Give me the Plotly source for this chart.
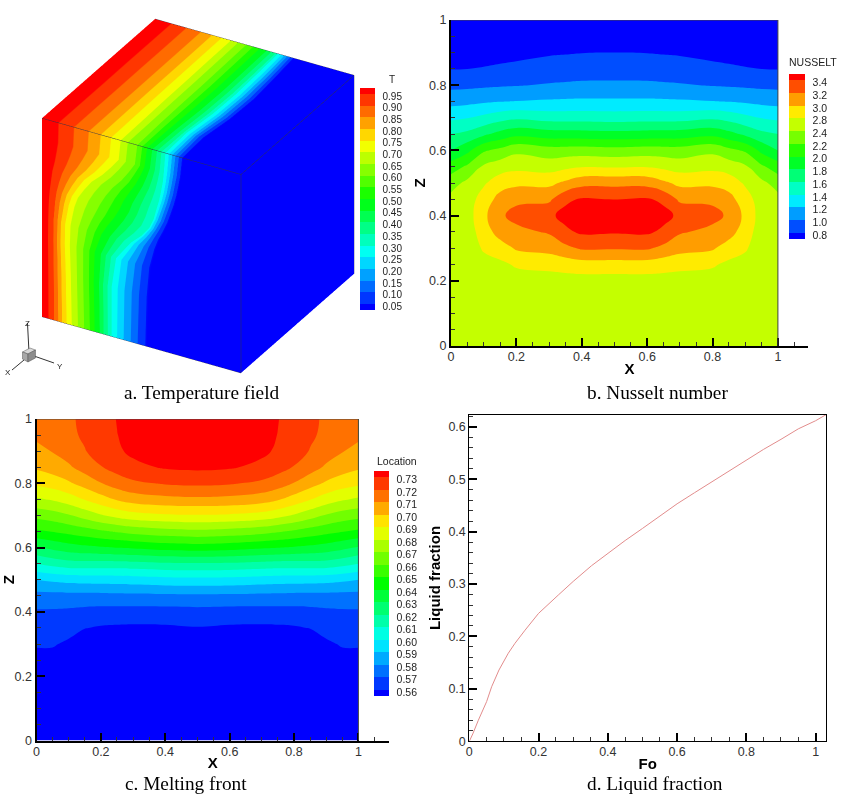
import numpy as np
import plotly.graph_objects as go
from plotly.colors import sample_colorscale

W, H = 843, 798
def PX(p): return p / W
def PY(p): return 1 - p / H

# ---------- a. Temperature field ----------
T_LEVELS = [1.0, .95, .90, .85, .80, .75, .70, .65, .60, .55, .50, .45, .40, .35, .30, .25, .20, .15, .10, .05, 0.0]
T_TICKS = [.05, .10, .15, .20, .25, .30, .35, .40, .45, .50, .55, .60, .65, .70, .75, .80, .85, .90, .95]
# Front face: heights on the face, then for each temperature level its Y position at those heights
FRONT_Z = [0, .25, .4, .5, .55, .6, .65, .7, .75, .8, .85, .9, 1]
U_95 = [.03, .029, .028, .029, .030, .032, .036, .042, .048, .059, .067, .074, .076]
U_90 = [.06, .058, .056, .057, .061, .065, .072, .084, .099, .120, .138, .153, .157]
U_85 = [.08, .077, .074, .076, .081, .087, .098, .117, .140, .172, .199, .223, .229]
U_80 = [.10, .096, .092, .094, .102, .110, .123, .148, .177, .219, .254, .284, .292]
U_75 = [.123, .119, .114, .116, .125, .134, .150, .179, .212, .261, .301, .337, .346]
U_70 = [.148, .143, .138, .141, .150, .160, .177, .209, .246, .300, .344, .383, .393]
U_65 = [.18, .175, .1725, .1825, .1975, .2125, .2325, .261, .296, .345, .385, .4195, .43]
U_60 = [.21, .205, .205, .223, .243, .266, .289, .317, .352, .397, .433, .465, .477]
U_55 = [.24, .235, .237, .264, .287, .316, .340, .365, .396, .435, .464, .491, .503]
U_50 = [.265, .260, .265, .299, .328, .362, .389, .410, .439, .470, .494, .515, .528]
U_45 = [.29, .286, .295, .340, .374, .408, .435, .453, .478, .504, .524, .541, .553]
U_40 = [.31, .307, .321, .376, .417, .453, .4775, .495, .516, .538, .554, .567, .578]
U_35 = [.33, .329, .346, .411, .458, .497, .518, .534, .552, .568, .580, .590, .599]
U_30 = [.35, .35, .372, .447, .50, .539, .561, .574, .588, .598, .607, .612, .62]
U_25 = [.376, .379, .398, .463, .509, .546, .569, .585, .600, .612, .621, .628, .637]
U_20 = [.41, .414, .432, .486, .525, .559, .581, .598, .614, .627, .636, .644, .654]
U_15 = [.447, .452, .469, .512, .543, .572, .597, .613, .629, .642, .652, .660, .671]
U_10 = [.48, .487, .502, .535, .560, .587, .611, .628, .644, .658, .667, .677, .688]
U_05 = [.52, .527, .540, .565, .583, .607, .629, .646, .662, .675, .685, .694, .705]
FRONT_U = [U_95, U_90, U_85, U_80, U_75, U_70, U_65, U_60, U_55, U_50, U_45, U_40, U_35, U_30, U_25, U_20, U_15, U_10, U_05]
# Top face: depth from back edge to front edge, then the Y position of each level
TOP_X = [0, .2, .4, .6, .8, 1]
TOP_X00 = [0, .075, .154, .225, .284, .334, .379, .417, .456, .492, .526, .560, .585, .606, .618, .635, .650, .665, .680, .695, 1]
TOP_X20 = [0, .075, .155, .226, .286, .336, .381, .420, .460, .496, .530, .564, .590, .612, .626, .645, .662, .678, .694, .710, 1]
TOP_X40 = [0, .075, .155, .227, .287, .338, .384, .423, .464, .500, .534, .568, .595, .617, .633, .652, .669, .686, .704, .722, 1]
TOP_X60 = [0, .076, .156, .228, .288, .340, .386, .425, .466, .500, .533, .566, .592, .613, .630, .648, .665, .682, .700, .717, 1]
TOP_X80 = [0, .076, .156, .228, .290, .343, .390, .428, .470, .500, .530, .557, .582, .600, .613, .630, .647, .662, .677, .697, 1]
TOP_X100 = [0, .076, .157, .229, .292, .346, .393, .430, .477, .503, .528, .553, .578, .599, .620, .637, .654, .671, .688, .705, 1]

# ---------- b. Nusselt number (values in contour-level steps, labelled by NU_LABELS) ----------
NU_LABELS = ["0.8", "1.0", "1.2", "1.4", "1.6", "1.8", "2.0", "2.2", "2.4", "2.8", "3.0", "3.2", "3.4"]
NU_Z = [0, .1, .2, .25, .3, .35, .4, .45, .5, .55, .6, .65, .7, .75, .8, .85, .9, 1]
NU_X = [0, .05, .1, .15, .2, .3, .35, .4, .5, .6, .65, .7, .8, .85, .9, .95, 1]
NU_00 = [8.5, 8.5, 8.5, 8.5, 8.5, 8.5, 8.45, 8.3, 7.59, 6.5, 5, 4, 2.8, 1.67, .75, -.03, -.4, -.5]
NU_05 = [8.5, 8.5, 8.5, 8.5, 8.5, 8.52, 8.55, 8.5, 8.25, 7.17, 5.75, 4.25, 2.95, 1.75, .78, 0, -.4, -.5]
NU_10 = [8.5, 8.5, 8.5, 8.7, 9.1, 9.45, 9.75, 9.45, 8.86, 8.16, 6.87, 4.8, 3.25, 1.87, .84, .06, -.4, -.5]
NU_15 = [8.5, 8.5, 8.55, 8.8, 9.5, 10.45, 10.85, 10.35, 9.57, 8.52, 7.28, 5.32, 3.6, 1.97, .9, .16, -.35, -.5]
NU_20 = [8.5, 8.5, 8.6, 9.11, 10.12, 10.73, 11.3, 10.8, 9.77, 8.72, 7.77, 5.72, 3.83, 2.03, .95, .27, -.3, -.5]
NU_30 = [8.5, 8.5, 8.6, 9.29, 10.37, 11.1, 11.8, 10.8, 9.76, 8.58, 7.43, 5.46, 3.59, 2.13, 1.08, .45, -.12, -.5]
NU_35 = [8.5, 8.5, 8.6, 9.43, 10.75, 11.8, 12.3, 11.8, 10.2, 8.78, 7.47, 5.44, 3.58, 2.16, 1.12, .5, -.07, -.5]
NU_40 = [8.5, 8.5, 8.6, 9.57, 11.12, 12.15, 12.5, 12.1, 10.67, 8.95, 7.5, 5.42, 3.58, 2.18, 1.17, .54, -.02, -.5]
NU_50 = [8.5, 8.5, 8.6, 9.57, 11.09, 12.1, 12.5, 11.98, 10.71, 8.9, 7.4, 5.35, 3.53, 2.18, 1.18, .55, 0, -.5]
NU_COLS = [NU_00, NU_05, NU_10, NU_15, NU_20, NU_30, NU_35, NU_40, NU_50, NU_40, NU_35, NU_30, NU_20, NU_15, NU_10, NU_05, NU_00]

# ---------- c. Melting front ----------
LOC_TICKS = [.56, .57, .58, .59, .60, .61, .62, .63, .64, .65, .66, .67, .68, .69, .70, .71, .72, .73]
LOC_Z = [0, .25, .3, .35, .4, .45, .5, .55, .6, .65, .7, .75, .8, .85, .9, .95, 1]
LOC_X = [0, .05, .1, .15, .2, .25, .3, .4, .5, .6, .7, .75, .8, .85, .9, .95, 1]
LOC_00 = [.55, .557, .5609, .5648, .5687, .5765, .59, .61, .629, .648, .663, .6785, .692, .7015, .7072, .712, .7145]
LOC_05 = [.55, .557, .5608, .5645, .5686, .5765, .592, .6135, .6325, .6503, .6655, .681, .6945, .7045, .7105, .7145, .716]
LOC_10 = [.55, .555, .5585, .563, .568, .5767, .5935, .616, .6355, .6528, .669, .685, .6985, .7085, .7145, .7178, .7185]
LOC_15 = [.55, .552, .554, .5603, .567, .5767, .5942, .6165, .6375, .6555, .674, .6905, .704, .714, .7195, .7215, .722]
LOC_20 = [.55, .552, .554, .559, .5664, .5768, .5943, .6162, .639, .6585, .679, .696, .7095, .7195, .7242, .7255, .726]
LOC_25 = [.55, .552, .5545, .5585, .5662, .5772, .5946, .6163, .6402, .661, .683, .701, .7145, .724, .7285, .7298, .7303]
LOC_30 = [.55, .552, .555, .5582, .566, .5775, .5952, .617, .6412, .6633, .686, .7045, .718, .7275, .732, .733, .7335]
LOC_40 = [.55, .552, .555, .5585, .566, .578, .5965, .6185, .6438, .666, .6885, .707, .721, .731, .735, .735, .735]
LOC_50 = [.55, .552, .555, .5595, .5665, .5783, .597, .619, .645, .6675, .6892, .7078, .722, .732, .7355, .7355, .7355]
LOC_COLS = [LOC_00, LOC_05, LOC_10, LOC_15, LOC_20, LOC_25, LOC_30, LOC_40, LOC_50,
            LOC_40, LOC_30, LOC_25, LOC_20, LOC_15, LOC_10, LOC_05, LOC_00]

# ---------- d. Liquid fraction ----------
FO = [0, .01, .026, .05, .0645, .0857, .1126, .132, .161, .2, .257, .30, .353, .40, .45, .5, .55, .6, .65, .7, .75, .8, .85, .9, .95, 1.0, 1.03]
LF = [0, .014, .04, .0757, .104, .136, .168, .187, .212, .244, .279, .305, .335, .3585, .383, .406, .43, .453, .474, .495, .516, .537, .557, .576, .596, .6115, .623]

RAINBOW = ["#0000ff", "#00ffff", "#00ff00", "#ffff00", "#ff0000"]
def band_colors(n):
    return sample_colorscale([[i / 4, c] for i, c in enumerate(RAINBOW)], [i / (n - 1) for i in range(n)])

def smooth_scale(n):
    cols = band_colors(n)
    return [[i / (n - 1), c] for i, c in enumerate(cols)]

def bar(left, top, bottom, width, font=10.5):
    return dict(x=PX(left), xanchor="left", xpad=0, y=PY(top), yanchor="top", ypad=0,
                lenmode="pixels", len=bottom - top, thicknessmode="pixels", thickness=width,
                outlinewidth=0, borderwidth=0, ticks="outside", ticklen=6, tickcolor="rgba(0,0,0,0)",
                tickfont=dict(family="Liberation Sans", size=font, color="#222"))

fig = go.Figure()

# --- cube ---
TOP_ROWS = [TOP_X00, TOP_X20, TOP_X40, TOP_X60, TOP_X80, TOP_X100]
n_lv = len(T_LEVELS)
cmin, cmax = .025, .975
cols20 = band_colors(20)
edges = [cmin] + T_TICKS + [cmax]
stepped = []
for i, c in enumerate(cols20):
    stepped += [[(edges[i] - cmin) / (cmax - cmin), c], [(edges[i + 1] - cmin) / (cmax - cmin), c]]
flat = dict(ambient=1, diffuse=0, specular=0, roughness=1, fresnel=0)
common = dict(colorscale=stepped, cmin=cmin, cmax=cmax, lighting=flat, hoverinfo="skip",
              contours=dict(x=dict(highlight=False), y=dict(highlight=False), z=dict(highlight=False)), scene="scene")
n_z = len(FRONT_Z)
fy = np.column_stack([np.zeros(n_z)] + [np.array(u) for u in FRONT_U] + [np.ones(n_z)])
fz = np.repeat(np.array(FRONT_Z)[:, None], n_lv, axis=1)
fig.add_trace(go.Surface(x=np.ones_like(fy), y=fy, z=fz, surfacecolor=np.tile(T_LEVELS, (n_z, 1)),
                         colorbar=dict(bar(360.3, 88.3, 310, 14.7, 10),
                                       tickvals=[v - .0086 for v in T_TICKS], ticktext=["%.2f" % v for v in T_TICKS]),
                         showscale=True, **common))
ty = np.array(TOP_ROWS)
tx = np.repeat(np.array(TOP_X)[:, None], n_lv, axis=1)
fig.add_trace(go.Surface(x=tx, y=ty, z=np.ones_like(ty), surfacecolor=np.tile(T_LEVELS, (len(TOP_X), 1)),
                         showscale=False, **common))
fig.add_trace(go.Surface(x=[[0, 1], [0, 1]], y=[[1, 1], [1, 1]], z=[[0, 0], [1, 1]],
                         surfacecolor=[[0, 0], [0, 0]], showscale=False, **common))
CUBE_EDGE_X = [1, 1, 0, 0, None, 1, 1, None, 1, 1, None, 0, 0, None]
CUBE_EDGE_Y = [0, 1, 1, 0, None, 1, 1, None, 0, 1, None, 1, 1, None]
CUBE_EDGE_Z = [1, 1, 1, 1, None, 1, 0, None, 0, 0, None, 1, 0, None]
fig.add_trace(go.Scatter3d(x=CUBE_EDGE_X, y=CUBE_EDGE_Y, z=CUBE_EDGE_Z, mode="lines",
                           line=dict(color="#30304a", width=1), hoverinfo="skip", showlegend=False, scene="scene"))

# --- Nusselt ---
fig.add_trace(go.Contour(x=NU_X, y=NU_Z, z=np.array(NU_COLS).T, xaxis="x", yaxis="y",
                         contours=dict(start=0, end=12, size=1, coloring="fill", showlines=False),
                         line=dict(width=0, smoothing=1.3), colorscale=smooth_scale(14),
                         colorbar=dict(bar(788.7, 74, 239, 15.6), tickvals=[v - .18 for v in range(13)], ticktext=NU_LABELS),
                         hoverinfo="skip"))
# --- Location ---
fig.add_trace(go.Contour(x=LOC_X, y=LOC_Z, z=np.array(LOC_COLS).T, xaxis="x2", yaxis="y2",
                         contours=dict(start=.56, end=.73, size=.01, coloring="fill", showlines=False),
                         line=dict(width=0, smoothing=1.3), colorscale=smooth_scale(19),
                         colorbar=dict(bar(374, 471.3, 696.7, 15), tickvals=[v - .0016 for v in LOC_TICKS],
                                       ticktext=["%.2f" % v for v in LOC_TICKS]),
                         hoverinfo="skip"))
# --- Liquid fraction ---
fig.add_trace(go.Scatter(x=FO, y=LF, mode="lines", xaxis="x3", yaxis="y3",
                         line=dict(color="#e28c8c", width=1), showlegend=False, hoverinfo="skip"))

def axis(title, rng, dom, anchor, dtick, minor, major_len=8, minor_len=4, standoff=2, **kw):
    d = dict(range=rng, domain=dom, anchor=anchor, dtick=dtick, tick0=0, ticks="inside", ticklen=major_len, tickwidth=2,
             tickcolor="black", showline=True, linecolor="black", linewidth=2, showgrid=False, zeroline=False, automargin=False,
             minor=dict(ticks="inside", ticklen=minor_len, tickwidth=1, dtick=minor, tick0=0, tickcolor="#333", showgrid=False),
             tickfont=dict(family="Liberation Sans", size=12.5, color="#333"),
             title=dict(text=title, standoff=standoff, font=dict(family="Liberation Sans", size=15, color="black")))
    d.update(kw)
    return d

def bold(t): return "<b>%s</b>" % t

CUBE_SCALE = 1.265
scene = dict(domain=dict(x=[PX(16.5), PX(378.5)], y=[PY(376.5), PY(14.5)]),
             aspectmode="manual", aspectratio=dict(x=CUBE_SCALE, y=CUBE_SCALE, z=CUBE_SCALE), bgcolor="rgba(0,0,0,0)",
             xaxis=dict(visible=False, range=[0, 1]), yaxis=dict(visible=False, range=[0, 1]), zaxis=dict(visible=False, range=[0, 1]),
             camera=dict(projection=dict(type="orthographic"), up=dict(x=0, y=0, z=1), center=dict(x=0, y=0, z=0),
                         eye=dict(x=.754 * 2, y=.428 * 2, z=.498 * 2)))

# orientation glyph of the cube panel (decoration, in page pixels)
def path(pts, close=False):
    s = "M " + " L ".join("%.4f,%.4f" % (PX(a), PY(b)) for a, b in pts)
    return s + (" Z" if close else "")
shapes = []
for pts in [[(29, 352), (27.5, 323)], [(34, 356), (54, 363)], [(24, 360), (12, 370)]]:
    shapes.append(dict(type="path", xref="paper", yref="paper", path=path(pts), line=dict(color="#333", width=1)))
for pts, col in [([(22.5, 352), (30, 348), (35.5, 350), (28, 354)], "#d8d8d8"),
                 ([(22.5, 352), (28, 354), (28, 362), (22.5, 359)], "#a8a8a8"),
                 ([(28, 354), (35.5, 350), (35.5, 358), (28, 362)], "#8c8c8c")]:
    shapes.append(dict(type="path", xref="paper", yref="paper", path=path(pts, True),
                       fillcolor=col, line=dict(color="#555", width=.5)))
for xr, yr in [("x", "y"), ("x2", "y2")]:
    shapes.append(dict(type="line", xref=xr, yref=yr, x0=1, x1=1, y0=0, y1=1, line=dict(color="#444", width=1)))
    shapes.append(dict(type="line", xref=xr, yref=yr, x0=0, x1=1, y0=1, y1=1, line=dict(color="#444", width=1)))

def note(text, x, y, size, family="Liberation Sans", color="#222"):
    return dict(text=text, xref="paper", yref="paper", x=PX(x), y=PY(y), xanchor="center", yanchor="middle",
                showarrow=False, font=dict(family=family, size=size, color=color))
annotations = [
    note("a. Temperature field", 202, 392, 19.3, "Liberation Serif", "black"),
    note("b. Nusselt number", 657, 392, 19.3, "Liberation Serif", "black"),
    note("c. Melting front", 186, 783, 19.3, "Liberation Serif", "black"),
    note("d. Liquid fraction", 655, 783, 19.3, "Liberation Serif", "black"),
    note("T", 391.5, 79, 10),
    note("NUSSELT", 812.5, 62, 10.5),
    note("Location", 397, 461, 10.5),
    note("Z", 27, 323, 8), note("Y", 60, 366, 8), note("X", 8, 372, 8),
]

fig.update_layout(
    width=W, height=H, autosize=False, margin=dict(l=0, r=0, t=0, b=0, autoexpand=False),
    paper_bgcolor="white", plot_bgcolor="white", showlegend=False, scene=scene, shapes=shapes, annotations=annotations,
    xaxis=axis(bold("X"), [0, 1.092], [PX(451), PX(808)], "y", .2, .05, standoff=0, ticklabelstandoff=-2),
    yaxis=axis(bold("Z"), [0, 1], [PY(346), PY(20)], "x", .2, .05, standoff=0),
    xaxis2=axis(bold("X"), [0, 1.095], [PX(36.5), PX(389)], "y2", .2, .05, standoff=0, ticklabelstandoff=-2),
    yaxis2=axis(bold("Z"), [0, 1], [PY(740.5), PY(419)], "x2", .2, .05, standoff=12),
    xaxis3=axis(bold("Fo"), [0, 1.03], [PX(469.3), PX(826)], "y3", .2, .05, standoff=0, ticklabelstandoff=-1, mirror=True, linewidth=1),
    yaxis3=axis(bold("Liquid fraction"), [0, .623], [PY(741.3), PY(414.7)], "x3", .1, .02, standoff=4, mirror=True, linewidth=1),
)
fig.write_html("out.html", post_script="document.body.style.margin='0';", config=dict(displayModeBar=False))
